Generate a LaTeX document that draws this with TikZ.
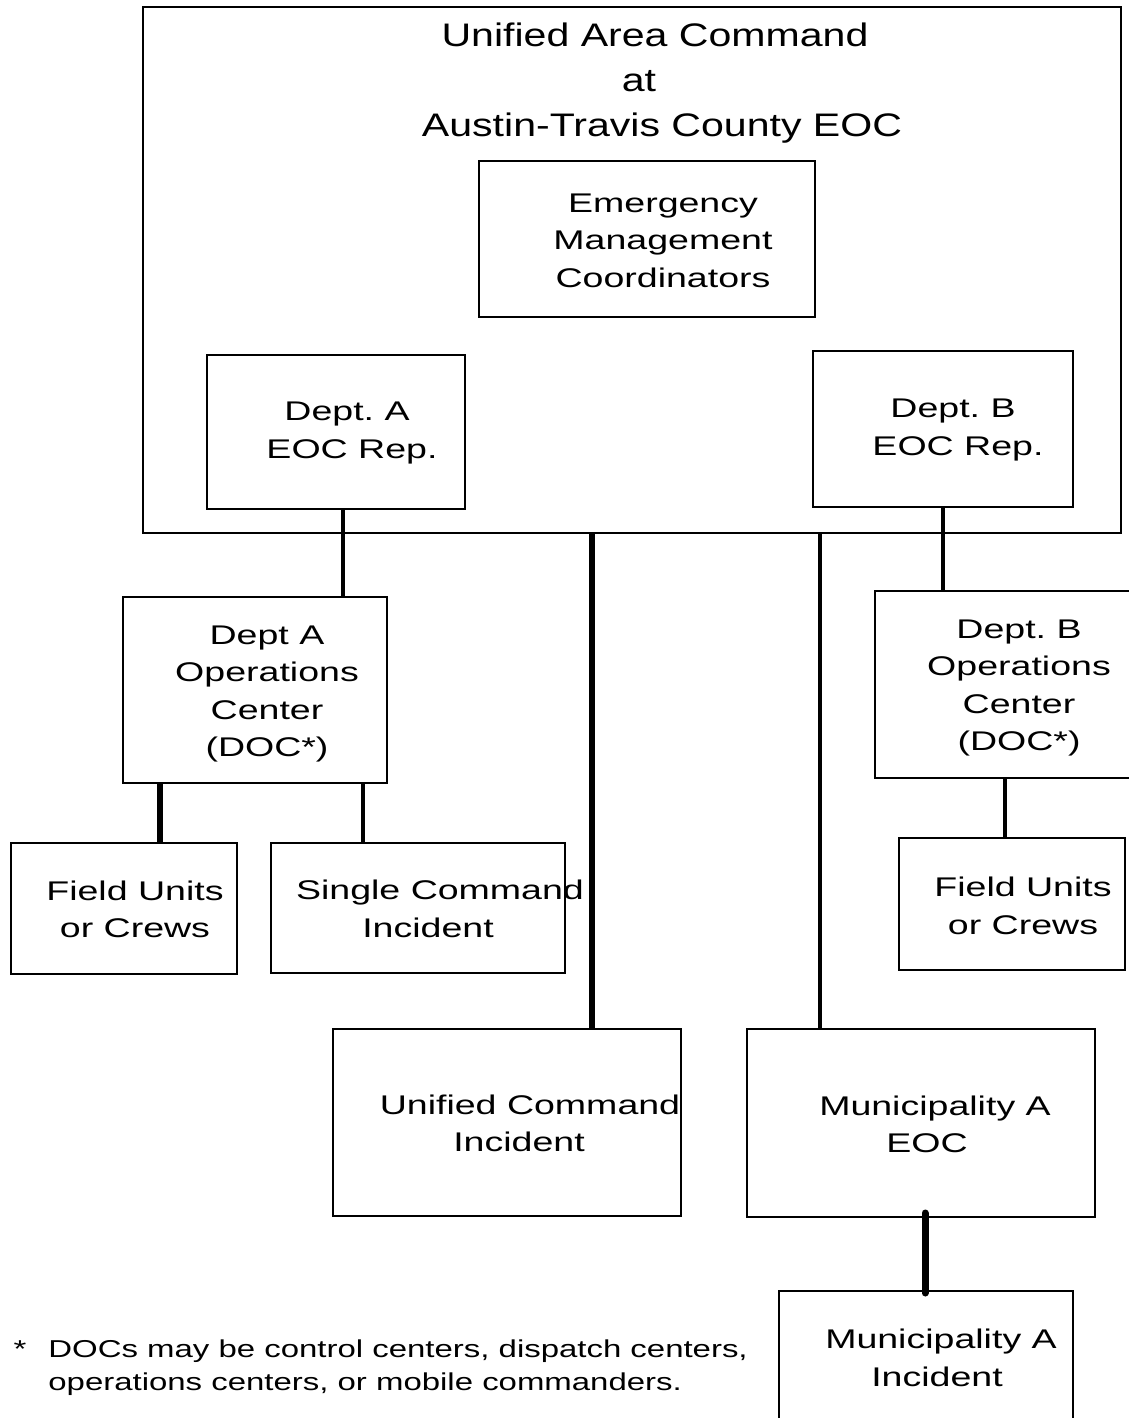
\documentclass[tikz,border=0pt]{standalone}
\usepackage{fontspec}
\setmainfont{Liberation Sans}
\newfontfamily\boxfont[FakeStretch=1.39]{Liberation Sans}
\newfontfamily\titlefont[FakeStretch=1.26]{Liberation Sans}
\newfontfamily\notefont[FakeStretch=1.35]{Liberation Sans}
\begin{document}
\frenchspacing
\begin{tikzpicture}[x=0.5pt,y=-0.5pt,
  box/.style={draw, line width=1pt, inner sep=0pt, outer sep=0pt},
  lbl/.style={align=center, inner sep=0pt, font=\boxfont\fontsize{13.5}{18.75}\selectfont},
  ttl/.style={anchor=base, inner sep=0pt, font=\titlefont\fontsize{16.3}{22.5}\selectfont},
  thin/.style={line width=2pt},
  thick/.style={line width=3pt}]
\useasboundingbox[fill=white] (0,0) rectangle (1129,1418);
% boxes
\node[box, minimum width=489pt, minimum height=263pt] (uac) at (632,270) {};
\node[box, minimum width=168pt, minimum height=78pt] (emc) at (647,239) {};
\node[box, minimum width=129pt, minimum height=77pt] (reA) at (336,432) {};
\node[box, minimum width=130pt, minimum height=78pt] (reB) at (943,429) {};
\node[box, minimum width=132pt, minimum height=93pt] (docA) at (255,690) {};
\node[box, minimum width=130pt, minimum height=93.5pt] (docB) at (1005,684.5) {};
\node[box, minimum width=113pt, minimum height=65.5pt] (fuA) at (124,908.5) {};
\node[box, minimum width=147pt, minimum height=65pt] (sci) at (418,908) {};
\node[box, minimum width=113pt, minimum height=66pt] (fuB) at (1012,904) {};
\node[box, minimum width=174pt, minimum height=93.5pt] (uci) at (507,1122.5) {};
\node[box, minimum width=174pt, minimum height=94pt] (maeoc) at (921,1123) {};
\node[box, minimum width=147pt, minimum height=69.5pt] (mai) at (926,1360.5) {};
% texts
\node[ttl] (tTitleA) at (655,46.5) {Unified Area Command};
\node[ttl] (tTitleB) at (639,91.5) {at};
\node[ttl] (tTitleC) at (662,136.5) {Austin-Travis County EOC};
\node[lbl] (tEmc) at (663,240.5) {Emergency\\Management\\Coordinators};
\node[lbl] (tReA) at (352,433) {Dept. A\hspace*{5pt}\\EOC Rep.};
\node[lbl] (tReB) at (958,430) {Dept. B\hspace*{5pt}\\EOC Rep.};
\node[lbl] (tDocA) at (267,694) {Dept A\\Operations\\Center\\(DOC*)};
\node[lbl] (tDocB) at (1019,688) {Dept. B\\Operations\\Center\\(DOC*)};
\node[lbl] (tFuA) at (135,909.5) {Field Units\\or Crews};
\node[lbl] (tSci) at (440,909) {Single Command\\Incident\hspace*{12pt}};
\node[lbl] (tFuB) at (1023,906) {Field Units\\or Crews};
\node[lbl] (tUci) at (530,1123.5) {Unified Command\\Incident\hspace*{11pt}};
\node[lbl] (tMaeoc) at (935,1124.5) {Municipality A\\EOC\hspace*{8pt}};
\node[lbl] (tMai) at (941,1358) {Municipality A\\Incident\hspace*{4pt}};
\node[inner sep=0pt, font=\notefont\fontsize{12.2}{16.5}\selectfont] (star) at (20,1349) {*};
\node[inner sep=0pt, anchor=west, align=left, font=\notefont\fontsize{12.2}{16.5}\selectfont] (note) at (48,1367.5)
  {DOCs may be control centers, dispatch centers,\\operations centers, or mobile commanders.};
% connectors
\draw[thin] (reA.south -| 343,0) -- (docA.north -| 343,0);
\draw[thick] (uac.south -| 592,0) -- (uci.north -| 592,0);
\draw[thin] (uac.south -| 820,0) -- (maeoc.north -| 820,0);
\draw[thin] (reB.south -| 943,0) -- (docB.north -| 943,0);
\draw[thick] (docA.south -| 160,0) -- (fuA.north -| 160,0);
\draw[thin] (docA.south -| 363,0) -- (sci.north -| 363,0);
\draw[thin] (docB.south -| 1005,0) -- (fuB.north -| 1005,0);
\draw[line width=3.5pt, line cap=round] ([yshift=2pt]maeoc.south -| 925,0) -- ([yshift=-1pt]mai.north -| 925,0);
\end{tikzpicture}
\end{document}
